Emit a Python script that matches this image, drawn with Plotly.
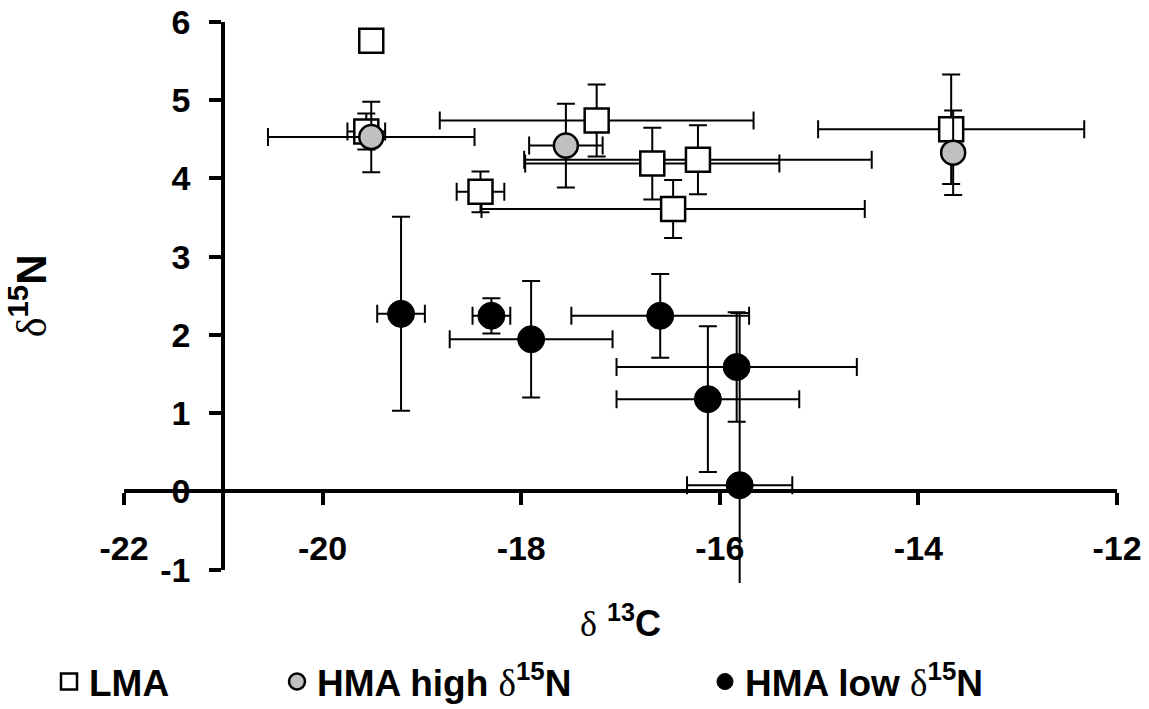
import plotly.graph_objects as go

# ---------------- data ----------------
lma_x = [-19.51, -19.56, -17.24, -16.68, -16.22, -18.41, -16.47, -13.67]
lma_y = [5.76, 4.60, 4.74, 4.19, 4.24, 3.83, 3.61, 4.63]
lma_xerr = [0.0, 0.19, 1.58, 1.28, 1.75, 0.24, 1.93, 1.34]
lma_yerr = [0.0, 0.23, 0.46, 0.46, 0.44, 0.26, 0.37, 0.70]

hh_x = [-19.51, -17.55, -13.65]
hh_y = [4.53, 4.42, 4.33]
hh_xerr = [1.04, 0.37, 0.0]
hh_yerr = [0.45, 0.535, 0.54]

hl_x = [-19.21, -18.30, -17.90, -16.60, -15.83, -16.12, -15.80]
hl_y = [2.27, 2.245, 1.945, 2.245, 1.59, 1.18, 0.08]
hl_xerr = [0.24, 0.19, 0.82, 0.895, 1.21, 0.92, 0.53]
hl_yerr = [1.24, 0.225, 0.745, 0.535, 0.70, 0.93, 2.20]

x_ticks = [-22, -20, -18, -16, -14, -12]
y_ticks = [-1, 0, 1, 2, 3, 4, 5, 6]

# ---------------- layout constants ----------------
FONT = "Liberation Sans, Arial, Helvetica, sans-serif"
DELTA = "<span style='font-weight:normal;font-family:Liberation Serif'>δ</span>"
Y_LO, Y_HI = -1.17, 6.0          # data axis range (lower end = clip of error bar)
Y_SHOW_LO = -1.0
X_LO, X_HI = -22, -12
W, H = 1149, 709
ML, MR, MT, MB = 124, 32, 22, 126
PW = W - ML - MR
PH = H - MT - MB


def px2paper_x(px):
    return (px - ML) / PW


def px2paper_y(py):
    return (H - MB - py) / PH


def errbar(arr):
    return dict(type="data", array=arr, visible=True, color="black",
                thickness=2, width=9)


fig = go.Figure()

fig.add_trace(go.Scatter(
    x=lma_x, y=lma_y, mode="markers", name="<b>LMA</b>",
    error_x=errbar(lma_xerr), error_y=errbar(lma_yerr),
    marker=dict(symbol="square", size=24, color="white",
                line=dict(color="black", width=2.5)),
    legend="legend",
))
fig.add_trace(go.Scatter(
    x=hh_x, y=hh_y, mode="markers",
    name="<b>HMA high </b>" + DELTA + "<b><sup>15</sup>N</b>",
    error_x=errbar(hh_xerr), error_y=errbar(hh_yerr),
    marker=dict(symbol="circle", size=24, color="#c0c0c0",
                line=dict(color="black", width=2.5)),
    legend="legend2",
))
fig.add_trace(go.Scatter(
    x=hl_x, y=hl_y, mode="markers",
    name="<b>HMA low </b>" + DELTA + "<b><sup>15</sup>N</b>",
    error_x=errbar(hl_xerr), error_y=errbar(hl_yerr),
    marker=dict(symbol="circle", size=27, color="black",
                line=dict(color="black", width=1)),
    legend="legend3",
))
# carrier trace for the displayed y axis
fig.add_trace(go.Scatter(x=[None], y=[None], yaxis="y2", showlegend=False,
                         hoverinfo="skip", mode="markers"))

tickfont = dict(family=FONT, size=34, color="black", weight="bold")
legfont = dict(family=FONT, size=37, color="black")

x0_frac = (0 - Y_LO) / (Y_HI - Y_LO)
ydom0 = (Y_SHOW_LO - Y_LO) / (Y_HI - Y_LO)
yaxis_pos = (-21 - X_LO) / (X_HI - X_LO)

leg_common = dict(orientation="h", yanchor="middle", xanchor="left",
                  font=legfont, bgcolor="rgba(0,0,0,0)", borderwidth=0,
                  itemsizing="trace")

fig.update_layout(
    width=W, height=H,
    margin=dict(l=ML, r=MR, t=MT, b=MB, autoexpand=False),
    paper_bgcolor="white", plot_bgcolor="rgba(0,0,0,0)",
    font=dict(family=FONT, color="black"),
    xaxis=dict(
        range=[X_LO, X_HI], domain=[0, 1], anchor="free", position=x0_frac,
        showline=True, linecolor="black", linewidth=4,
        ticks="outside", ticklen=12, tickwidth=3.5, tickcolor="black",
        tickvals=x_ticks, ticktext=[str(v) for v in x_ticks],
        showgrid=False, zeroline=False, tickfont=tickfont,
        ticklabelstandoff=14,
        title=dict(text=DELTA + " <b><sup>13</sup>C</b>",
                   font=dict(family=FONT, size=36, color="black"),
                   standoff=44),
    ),
    yaxis=dict(range=[Y_LO, Y_HI], domain=[0, 1], visible=False,
               showgrid=False, zeroline=False),
    yaxis2=dict(
        range=[Y_SHOW_LO, Y_HI], domain=[ydom0, 1], anchor="free",
        position=yaxis_pos,
        showline=True, linecolor="black", linewidth=4,
        ticks="outside", ticklen=12, tickwidth=3.5, tickcolor="black",
        tickvals=y_ticks, ticktext=[str(v) for v in y_ticks],
        showgrid=False, zeroline=False, tickfont=tickfont,
        ticklabelstandoff=12,
        title=dict(text=DELTA + "<b><sup>15</sup>N</b>",
                   font=dict(family=FONT, size=42, color="black"),
                   standoff=100),
    ),
    legend=dict(x=px2paper_x(49), y=px2paper_y(682), **leg_common),
    legend2=dict(x=px2paper_x(277), y=px2paper_y(682), **leg_common),
    legend3=dict(x=px2paper_x(705), y=px2paper_y(682), **leg_common),
    showlegend=True,
)

fig.write_html("out.html")
